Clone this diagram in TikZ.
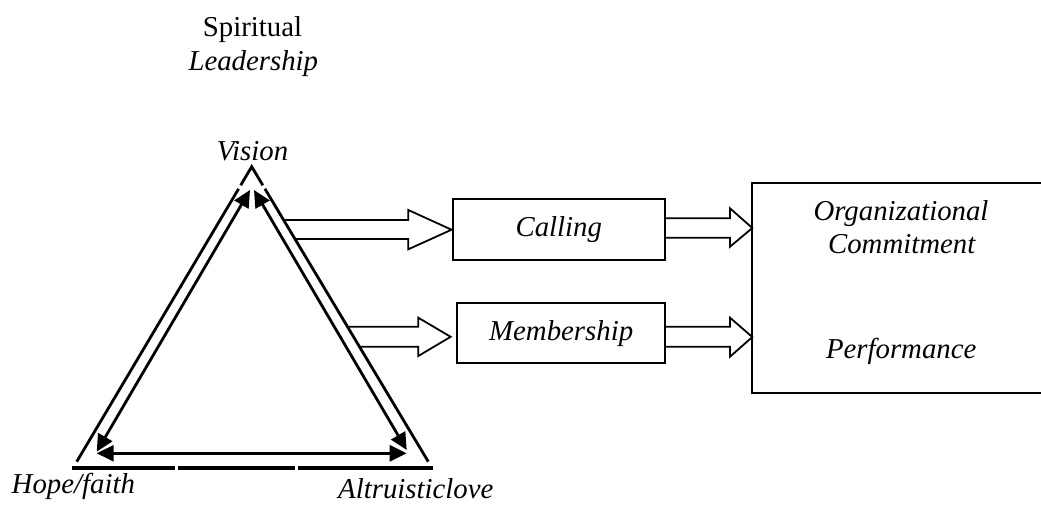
\documentclass[tikz,border=0pt]{standalone}
\usepackage{fontspec}
\setmainfont{Liberation Serif}
\usetikzlibrary{arrows.meta,calc}

\tikzset{
  txt/.style={font=\fontsize{28.8}{33}\selectfont\itshape, inner sep=0pt, anchor=base},
  side/.style={line width=2.8pt, line join=miter},
  base/.style={line width=3.2pt},
  inner/.style={line width=2.8pt, {Triangle[length=17pt,width=16pt]}-{Triangle[length=17pt,width=16pt]}},
  fat/.style={line width=1.8pt, line join=miter},
  box/.style={draw, line width=2.2pt, inner sep=0pt, font=\fontsize{28.8}{33}\selectfont\itshape}
}

\begin{document}
\begin{tikzpicture}[x=1pt,y=-1pt]
\useasboundingbox (0,0) rectangle (1041,504);
\clip (0,0) rectangle (1041,504);

% corners of the triangle
\coordinate (A) at (251.7,166.7);
\coordinate (L) at (76.7,461.7);
\coordinate (R) at (428.3,461.7);

% headings
\node[txt, font=\fontsize{28.8}{33}\selectfont\upshape] (spir) at (252.5,36) {Spiritual};
\node[txt] (lead) at (253.3,70) {Leadership};
\node[txt] (vision) at (252.5,160.7) {Vision};
\node[txt] (hope) at (73.3,493) {Hope/faith};
\node[txt] (altr) at (415.8,498.3) {Altruisticlove};

% outer triangle, drawn in pieces
\draw[side] ($(L)!0.937!(A)$) -- (A) -- ($(R)!0.937!(A)$);
\draw[side] (L) -- ($(L)!0.925!(A)$);
\draw[side] (R) -- ($(R)!0.925!(A)$);
\draw[base] (71.7,468) -- (175.2,468);
\draw[base] (178.4,468) -- (294.5,468);
\draw[base] (297.8,468) -- (432.7,468);

% relations inside the triangle
\coordinate (vl) at (250,190);
\coordinate (vr) at (254,190);
\coordinate (hl) at (96.7,451.7);
\coordinate (al) at (406.7,450);
\coordinate (hb) at (96.7,453.3);
\coordinate (ab) at (406.7,453.3);
\draw[inner] (hl) -- (vl);
\draw[inner] (vr) -- (al);
\draw[inner] (hb) -- (ab);

% mediating boxes
\node[box, minimum width=212.3pt, minimum height=60.7pt] (calling) at (558.8,229.7) {Calling};
\node[box, minimum width=207.7pt, minimum height=60pt] (member) at (561.2,333.3) {Membership};

% outcome box
\draw[line width=2.2pt] (1050,183.3) -- (752.3,183.3) -- (752.3,392.7) -- (1050,392.7);
\coordinate (outw) at (752.3,288);
\node[txt] (org) at (901,220) {Organizational};
\node[txt] (com) at (901.7,253.3) {Commitment};
\node[txt] (perf) at (901.2,358.3) {Performance};

% horizontal guides for the arrow shafts
\coordinate (g1a) at (0,220);   \coordinate (g1b) at (10,220);
\coordinate (g2a) at (0,239);   \coordinate (g2b) at (10,239);
\coordinate (g3a) at (0,326.7); \coordinate (g3b) at (10,326.7);
\coordinate (g4a) at (0,346.7); \coordinate (g4b) at (10,346.7);

% block arrows from the triangle
\draw[fat] (intersection of A--R and g1a--g1b) -- (408.3,220) -- (408.3,210)
  -- (calling.west) -- (408.3,249.3) -- (408.3,239)
  -- (intersection of A--R and g2a--g2b);
\draw[fat] (intersection of A--R and g3a--g3b) -- (418.3,326.7) -- (418.3,317.7)
  -- ($(member.west)+(-5.6,3.5)$) -- (418.3,356) -- (418.3,346.7)
  -- (intersection of A--R and g4a--g4b);

% block arrows into the outcome box
\draw[fat] (calling.east |- 0,218.3) -- (730,218.3) -- (730,208.3)
  -- (outw |- 0,228) -- (730,246.7) -- (730,237.7) -- (calling.east |- 0,237.7);
\draw[fat] (member.east |- 0,326.7) -- (730,326.7) -- (730,317.7)
  -- (outw |- 0,337) -- (730,356.7) -- (730,346.7) -- (member.east |- 0,346.7);
\end{tikzpicture}
\end{document}
